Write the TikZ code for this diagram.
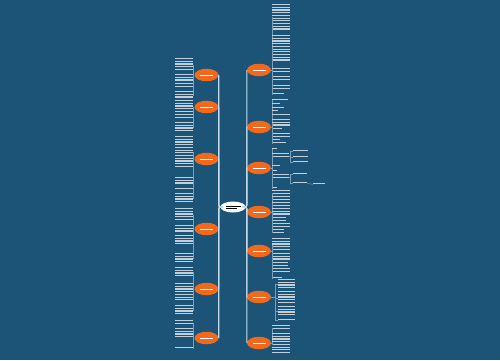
\documentclass[tikz,border=0pt]{standalone}
\usepackage{tikz}
\usetikzlibrary{shapes.geometric}
\definecolor{bgblue}{HTML}{1C5478}
\definecolor{topicorange}{HTML}{F0691F}
\definecolor{linkblue}{HTML}{C4DAEA}
\newcommand\stripes[2]{\vbox{\offinterlineskip\foreach \k in {1,...,#1}{\hrule width #2pt height 1.2pt \vskip 1.5pt}}}
\newcommand\topicbar{\textcolor{white}{\rule{13pt}{0.6pt}}}

\begin{document}
\begin{tikzpicture}[x=1pt,y=-1pt,
  hub/.style={ellipse,fill=white,minimum width=25pt,minimum height=11pt,inner sep=0pt},
  topic/.style={ellipse,fill=topicorange,minimum width=24pt,minimum height=12.5pt,inner sep=0pt},
  txt/.style={inner sep=0pt,outer sep=0pt,text=white!72!bgblue},
  link/.style={draw=linkblue,line width=1.1pt,rounded corners=2pt},
  sub/.style={draw=linkblue!55!bgblue,line width=0.4pt}]
\fill[bgblue] (0,0) rectangle (500,360);

\node[hub] (hub) at (233,207) {\vbox{\hrule width 15pt height 0.6pt \vskip 1.2pt \hrule width 11pt height 0.6pt}};

\node[topic] (l1) at (206.5,75) {\topicbar};
\node[topic] (l2) at (206.5,107) {\topicbar};
\node[topic] (l3) at (206.5,159) {\topicbar};
\node[topic] (l4) at (206.5,229) {\topicbar};
\node[topic] (l5) at (206.5,289) {\topicbar};
\node[topic] (l6) at (206.5,338) {\topicbar};

\node[topic] (r1) at (259,70) {\topicbar};
\node[topic] (r2) at (259,127) {\topicbar};
\node[topic] (r3) at (259,168) {\topicbar};
\node[topic] (r4) at (259,212) {\topicbar};
\node[topic] (r5) at (259,251) {\topicbar};
\node[topic] (r6) at (259,297) {\topicbar};
\node[topic] (r7) at (259,343) {\topicbar};

\foreach \c in {l1,l2,l3,l4,l5,l6}
  \draw[link] (hub.west) -| (\c.east);
\foreach \c in {r1,r2,r3,r4,r5,r6,r7}
  \draw[link] (hub.east) -| (\c.west);

%left text
\foreach \c/\blocks in {l1/{58/5,74/3,83/2,91/3}, l2/{100/5,114/2,122/4},
    l3/{136/12,177/3,188/1,193/4}, l4/{208/5,225/3,235/4,253/4},
    l5/{267/4,283/7,305/4}, l6/{320/2,328/4,347/1}}{
  \foreach \y/\n in \blocks {
    \node[txt,anchor=north east] (\c-\y) at (193,\y) {\stripes{\n}{18}};
    \draw[sub] (\c.west) -- ++(-1,0) |- (\c-\y.east);
  }
}

%right text
\foreach \c/\blocks in {r1/{4/10/18,35/10/18,68/2/18,76/2/18,85/2/18,93/1/12},
    r2/{99/1/16,103/1/8,107/1/12,110/1/6,114/1/18,119/3/18,128/1/10,133/2/18,139/1/8,142/1/14},
    r3/{148/1/5,153/2/17,165/1/8,170/1/5,174/2/17,187/1/5},
    r4/{190/2/18,196/2/18,202/2/18,208/3/18,217/2/14,223/2/18,229/2/12},
    r5/{238/5/18,253/3/18,262/2/16,268/2/18,277/1/10},
    r7/{325/2/18,333/8/18}}{
  \foreach \y/\n/\w in \blocks {
    \node[txt,anchor=north west] (\c-\y) at (272,\y) {\stripes{\n}{\w}};
    \draw[sub] (\c.east) -- ++(1,0) |- (\c-\y.west);
  }
}
\foreach \y/\n in {279/4,291/5,306/4,319/1} {
  \node[txt,anchor=north west] (r6-\y) at (278,\y) {\stripes{\n}{17}};
  \draw[sub] (r6.east) -- ++(4,0) |- (r6-\y.west);
}

%third level
\foreach \y in {150,156,161} {
  \node[txt,anchor=north west] (r3a-\y) at (293,\y) {\stripes{1}{15}};
  \draw[sub] (r3-153.east) -- ++(1.5,0) |- (r3a-\y.west);
}
\foreach \y in {173,182} {
  \node[txt,anchor=north west] (r3b-\y) at (293,\y) {\stripes{1}{14}};
  \draw[sub] (r3-174.east) -- ++(1.5,0) |- (r3b-\y.west);
}
\node[txt,anchor=north west] (r3c) at (313,183) {\stripes{1}{12}};
\draw[sub] (r3b-182.east) -- (r3c.west);
\end{tikzpicture}
\end{document}
